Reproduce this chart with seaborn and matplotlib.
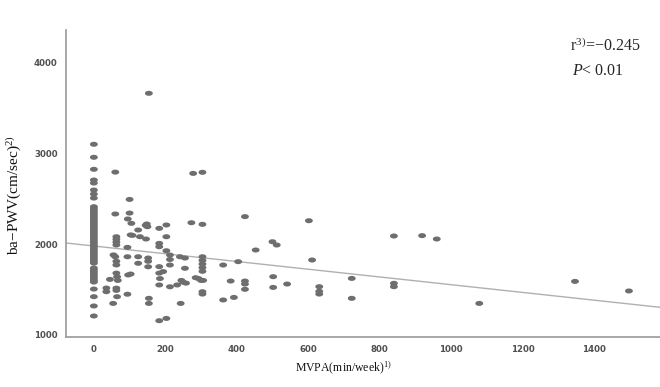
import numpy as np
import pandas as pd
import matplotlib
matplotlib.use("Agg")
import matplotlib.pyplot as plt
from matplotlib.path import Path
import seaborn as sns

# ---- data ----
col0_pwv = [3096, 2953, 2821, 2703, 2670, 2593, 2549, 2505, 2410, 2390, 2370, 2350,
            2330, 2310, 2290, 2270, 2250, 2230, 2210, 2190, 2170, 2150, 2130, 2110,
            2090, 2070, 2050, 2030, 2010, 1990, 1970, 1950, 1930, 1910, 1890, 1870,
            1850, 1830, 1810, 1790, 1736, 1715, 1695, 1675, 1655, 1635, 1615, 1598,
            1582, 1505, 1421, 1319, 1209]
other_mvpa = [60, 100, 60, 100, 95, 105, 148, 145, 150, 124, 103, 108, 129, 146,
              183, 203, 203, 183, 183, 63, 63, 63, 63, 94, 203, 55, 60, 63, 63, 94,
              124, 124, 152, 152, 152, 183, 213, 213, 213, 241, 255, 255, 273, 278,
              304, 304, 304, 304, 304, 304, 304, 362, 404, 423, 453, 63, 65, 67, 45,
              35, 35, 63, 63, 65, 54, 96, 103, 94, 154, 154, 183, 185, 183, 194, 213,
              233, 245, 250, 258, 285, 293, 300, 306, 304, 304, 243, 362, 392, 383,
              423, 423, 423, 183, 203, 154,
              500, 512, 602, 611, 502, 502, 541, 631, 631, 631, 722, 722, 840, 840,
              840, 919, 960, 1079, 1347, 1498]
other_pwv = [2790, 2490, 2330, 2340, 2275, 2227, 2220, 2205, 2190, 2154, 2100, 2095,
             2080, 2055, 2172, 2209, 2080, 2007, 1970, 2080, 2050, 2020, 1989, 1963,
             1926, 1880, 1860, 1810, 1770, 1860, 1860, 1788, 1846, 1810, 1750, 1751,
             1879, 1830, 1769, 1860, 1846, 1733, 2234, 2776, 2788, 2216, 1860, 1820,
             1780, 1740, 1700, 1769, 1806, 2301, 1934, 1680, 1640, 1600, 1611, 1516,
             1476, 1515, 1490, 1421, 1347, 1660, 1670, 1448, 1403, 1347, 1680, 1620,
             1550, 1697, 1530, 1550, 1600, 1580, 1570, 1630, 1620, 1600, 1600, 1476,
             1450, 1347, 1385, 1413, 1593, 1593, 1560, 1502, 1157, 1182, 3656,
             2025, 1989, 2256, 1824, 1641, 1523, 1560, 1531, 1480, 1450, 1622, 1403,
             2088, 1568, 1531, 2092, 2055, 1347, 1589, 1484]
fit_intercept = 1978
fit_slope = -0.425
x_ticks = [0, 200, 400, 600, 800, 1000, 1200, 1400]
y_ticks = [1000, 2000, 3000, 4000]
x_label = "MVPA(min/week)$^{1)}$"
y_label = "ba\u2212PWV(cm/sec)$^{2)}$"
r_text = "r$^{3)}$=\u22120.245"
p_text = "$P$< 0.01"

mvpa = [0] * len(col0_pwv) + other_mvpa
pwv = col0_pwv + other_pwv
df = pd.DataFrame({"mvpa": mvpa, "pwv": pwv})

sns.set_style("white")
plt.rcParams["font.family"] = ["Liberation Serif", "DejaVu Serif"]
plt.rcParams["mathtext.fontset"] = "custom"
plt.rcParams["mathtext.rm"] = "Liberation Serif"
plt.rcParams["mathtext.it"] = "Liberation Serif:italic"

fig = plt.figure(figsize=(6.6, 3.87), dpi=100)
ax = fig.add_axes([0.1, 0.1292, 0.9, 0.7933])

t = np.linspace(0, 2 * np.pi, 40)
ell = Path(np.column_stack([np.cos(t), 0.64 * np.sin(t)]), closed=True)

sns.scatterplot(data=df, x="mvpa", y="pwv", ax=ax, marker=ell, s=32,
                color="#6e6e6e", edgecolor="none", linewidth=0, zorder=3)

xmin, xmax = -78, 1585
ax.set_xlim(xmin, xmax)
ax.set_ylim(978, 4352)
xs = np.array([xmin, xmax])
ax.plot(xs, fit_intercept + fit_slope * xs, color="#b0b0b0", lw=1.0, zorder=2)

ax.set_xticks(x_ticks)
ax.set_yticks(y_ticks)
ax.tick_params(length=0, labelsize=6.2, labelcolor="#505050", pad=6)
for lab in ax.get_xticklabels() + ax.get_yticklabels():
    lab.set_fontfamily("DejaVu Sans")
    lab.set_fontweight("bold")

for s in ["top", "right"]:
    ax.spines[s].set_visible(False)
for s in ["left", "bottom"]:
    ax.spines[s].set_color("#a0a0a0")
    ax.spines[s].set_linewidth(1.3)

ax.set_xlabel(x_label, fontsize=8.5, color="#111111")
ax.xaxis.set_label_coords((343 - 66) / 594, -(368 - 337) / 307)
ax.xaxis.label.set_va("center")
ax.set_ylabel(y_label, fontsize=11, color="#111111")
ax.yaxis.set_label_coords(-(66 - 14) / 594, (337 - 195) / 307)
ax.yaxis.label.set_va("center")

fig.text(570 / 660, 1 - 46 / 387, r_text, fontsize=11.5, va="center", ha="left")
fig.text(572 / 660, 1 - 71 / 387, p_text, fontsize=11.5, va="center", ha="left")

fig.savefig("out.png", dpi=100)
